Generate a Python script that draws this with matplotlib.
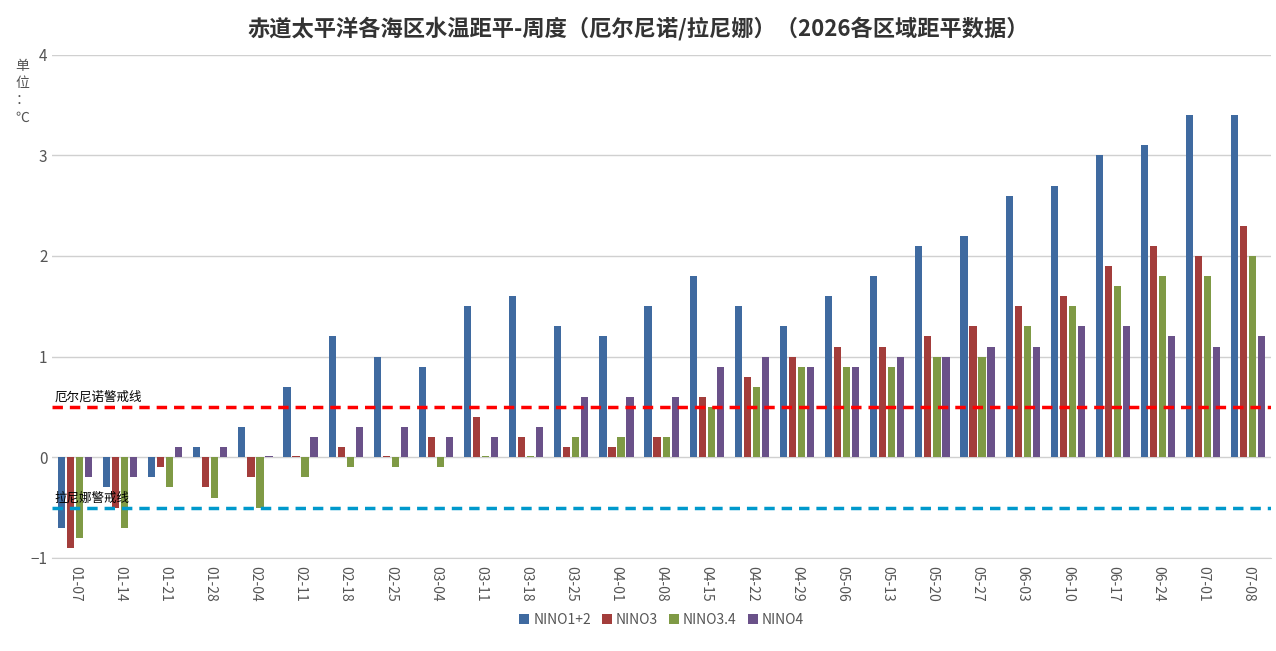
import numpy as np
import matplotlib.pyplot as plt

plt.rcParams['font.family'] = ['Noto Sans CJK SC', 'DejaVu Sans']

weeks = ['01-07', '01-14', '01-21', '01-28', '02-04', '02-11', '02-18', '02-25', '03-04',
         '03-11', '03-18', '03-25', '04-01', '04-08', '04-15', '04-22', '04-29', '05-06',
         '05-13', '05-20', '05-27', '06-03', '06-10', '06-17', '06-24', '07-01', '07-08']
data = {
    'NINO1+2': [-0.7, -0.3, -0.2, 0.1, 0.3, 0.7, 1.2, 1.0, 0.9, 1.5, 1.6, 1.3, 1.2, 1.5, 1.8,
                1.5, 1.3, 1.6, 1.8, 2.1, 2.2, 2.6, 2.7, 3.0, 3.1, 3.4, 3.4],
    'NINO3': [-0.9, -0.5, -0.1, -0.3, -0.2, 0.01, 0.1, 0.01, 0.2, 0.4, 0.2, 0.1, 0.1, 0.2, 0.6,
              0.8, 1.0, 1.1, 1.1, 1.2, 1.3, 1.5, 1.6, 1.9, 2.1, 2.0, 2.3],
    'NINO3.4': [-0.8, -0.7, -0.3, -0.4, -0.5, -0.2, -0.1, -0.1, -0.1, 0.01, 0.01, 0.2, 0.2, 0.2, 0.5,
                0.7, 0.9, 0.9, 0.9, 1.0, 1.0, 1.3, 1.5, 1.7, 1.8, 1.8, 2.0],
    'NINO4': [-0.2, -0.2, 0.1, 0.1, 0.01, 0.2, 0.3, 0.3, 0.2, 0.2, 0.3, 0.6, 0.6, 0.6, 0.9,
              1.0, 0.9, 0.9, 1.0, 1.0, 1.1, 1.1, 1.3, 1.3, 1.2, 1.1, 1.2],
}
colors = ['#3f6aa0', '#a33d3b', '#7f9a45', '#6a5189']

fig = plt.figure(figsize=(12.76, 6.51), dpi=100)
ax = fig.add_axes([0.041, 0.143, 0.955, 0.773])

x = np.arange(len(weeks))
w = 0.16
for i, (name, vals) in enumerate(data.items()):
    ax.bar(x + (i - 1.5) * 0.2, vals, w, color=colors[i], label=name, zorder=3)

ax.axhline(0.5, color='#ff0000', ls=(0, (3, 2)), lw=2.5, zorder=4)
ax.axhline(-0.5, color='#0099cc', ls=(0, (3, 2)), lw=2.5, zorder=4)
ax.text(-0.45, 0.53, '厄尔尼诺警戒线', fontsize=9, va='bottom', zorder=5)
ax.text(-0.45, -0.47, '拉尼娜警戒线', fontsize=9, va='bottom', zorder=5)

ax.set_xlim(-0.5, len(weeks) - 0.5)
ax.set_ylim(-1, 4)
ax.set_yticks([-1, 0, 1, 2, 3, 4])
ax.set_xticks(x)
ax.set_xticklabels(weeks, rotation=270, fontsize=10, color='#555555')
ax.tick_params(axis='y', labelsize=11, colors='#555555', length=0)
ax.tick_params(axis='x', length=0, pad=6)
ax.grid(axis='y', color='#d0d0d0', lw=1, zorder=0)
for s in ['top', 'right', 'left']:
    ax.spines[s].set_visible(False)
ax.spines['bottom'].set_color('#d0d0d0')

fig.text(0.012, 0.91, '单\n位\n：\n℃', fontsize=10, color='#555555', va='top', linespacing=1.3)
fig.suptitle('赤道太平洋各海区水温距平-周度（厄尔尼诺/拉尼娜）（2026各区域距平数据）',
             fontsize=16, fontweight='bold', color='#333333', y=0.975)
ax.legend(loc='upper center', bbox_to_anchor=(0.5, -0.085), ncol=4, frameon=False,
          fontsize=10, handlelength=0.7, handleheight=0.7, columnspacing=0.8, handletextpad=0.3,
          labelcolor='#555555')

fig.savefig('out.png', dpi=100)
